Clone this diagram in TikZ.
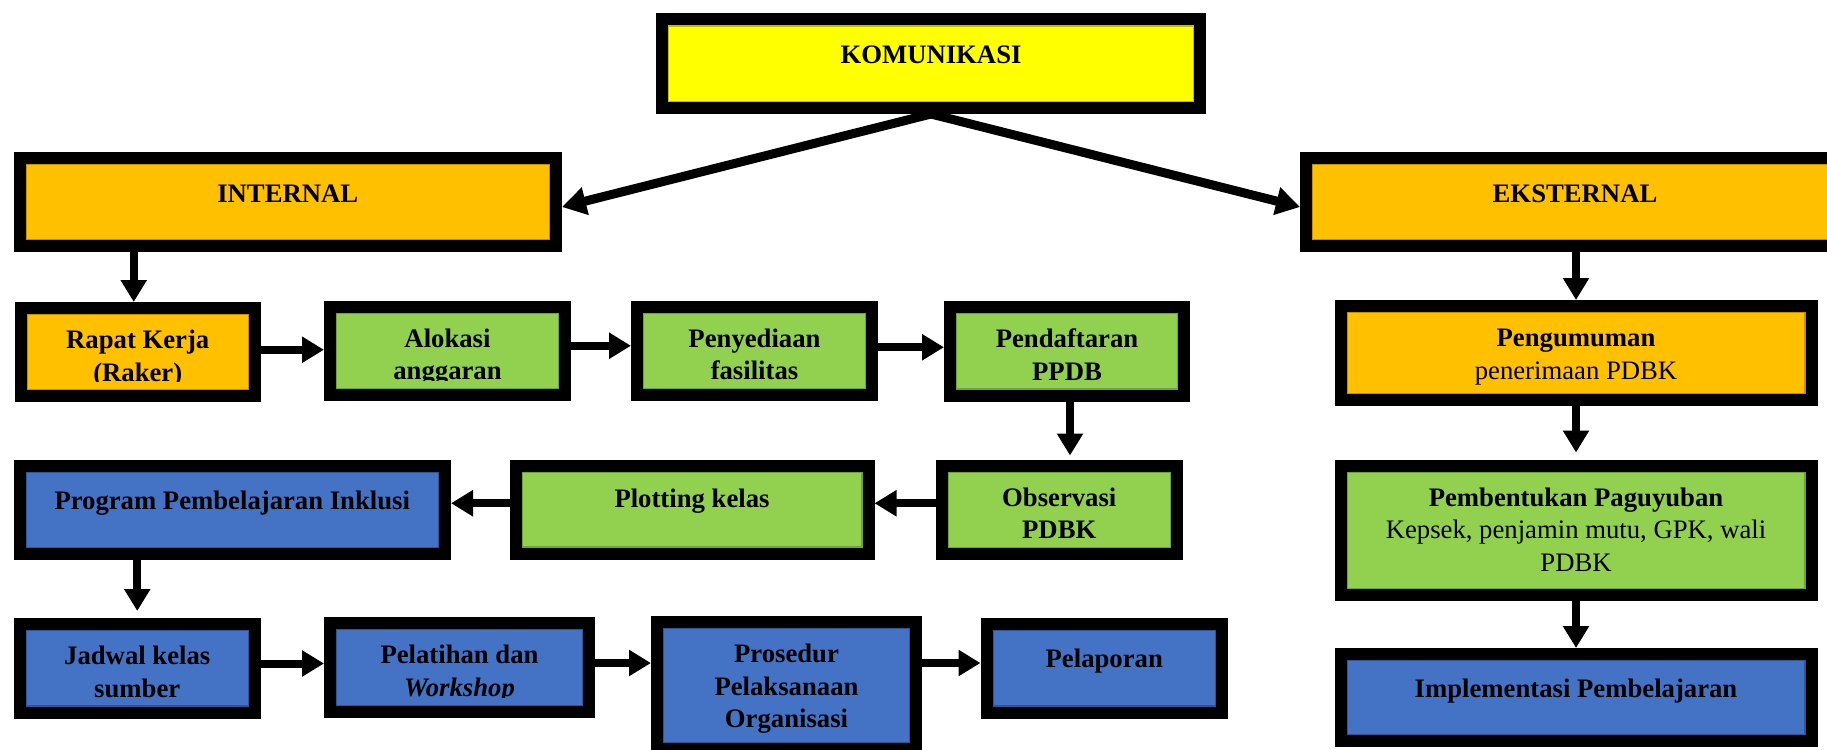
\documentclass[tikz,border=0pt]{standalone}
\usepackage{fontspec}
\setmainfont{Liberation Serif}
\usetikzlibrary{arrows.meta}

\definecolor{fillY}{HTML}{FFFF00}\definecolor{edgeY}{HTML}{BFBF00}
\definecolor{fillO}{HTML}{FFC000}\definecolor{edgeO}{HTML}{C49000}
\definecolor{fillG}{HTML}{92D050}\definecolor{edgeG}{HTML}{6EA23A}
\definecolor{fillB}{HTML}{4472C4}\definecolor{edgeB}{HTML}{2F5597}

\tikzset{
  box/.style={rectangle, draw=black, line width=12pt, inner sep=0pt, outer sep=6pt},
  lbl/.style={font=\fontsize{26.7}{32.5}\selectfont\bfseries, align=center,
              inner sep=0pt, text=black},
  arr/.style={line width=8pt, -{Triangle[length=22pt,width=25pt]}},
  darr/.style={line width=9pt, -{Triangle[length=24pt,width=27pt]}},
}

% box from its outer corners: name, colour key, x1, y1, x2, y2
\newcommand\mkbox[6]{%
  \node[box, fill=fill#2, minimum width={#5-#3-12}, minimum height={#6-#4-12}]
    (#1) at ({(#3+#5)/2},{(#4+#6)/2}) {};
  \draw[edge#2, line width=1.2pt]
    ([shift={(12.6,12.6)}]#1.north west) rectangle ([shift={(-12.6,-12.6)}]#1.south east);
}
% text of a box, set from the top (optional extra drop) and cut off at the text frame
\newcommand\mktext[3][0]{%
  \begin{scope}
    \clip ([shift={(12,12)}]#2.north west) rectangle ([shift={(-12,-21)}]#2.south east);
    \node[lbl, anchor=north] (#2t) at ([shift={(0,22.5+#1)}]#2.north) {\rule{0pt}{24pt}#3};
  \end{scope}
}

\begin{document}
\begin{tikzpicture}[x=1pt, y=-1pt]
  \useasboundingbox (0,0) rectangle (1827,749);
  \clip (0,0) rectangle (1827,749);

  % boxes
  \mkbox{kom}{Y}{656}{13.5}{1206}{114}
  \mkbox{int}{O}{13.5}{152}{562}{252}
  \mkbox{eks}{O}{1300}{152}{1850}{252}
  \mkbox{rk}{O}{14.5}{302}{261}{402}
  \mkbox{alo}{G}{324}{300.5}{571}{401}
  \mkbox{pny}{G}{631}{300.5}{878}{401}
  \mkbox{pdf}{G}{944}{301}{1190}{401.5}
  \mkbox{peng}{O}{1334.5}{300}{1817.5}{406}
  \mkbox{prg}{B}{13.5}{459.5}{451}{560}
  \mkbox{plt}{G}{509.5}{460}{874.5}{559.5}
  \mkbox{obs}{G}{935.5}{459.5}{1183}{560}
  \mkbox{pemb}{G}{1334.5}{459.5}{1817.5}{601}
  \mkbox{jad}{B}{13.5}{618}{261}{718.5}
  \mkbox{pel}{B}{324}{617}{595}{718}
  \mkbox{pro}{B}{651}{616}{922}{755}
  \mkbox{lap}{B}{980.5}{617.5}{1228}{718.5}
  \mkbox{imp}{B}{1334.5}{648}{1817.5}{747}

  % texts
  \mktext[3]{kom}{KOMUNIKASI}
  \mktext[4]{int}{INTERNAL}
  \mktext[4]{eks}{EKSTERNAL}
  \mktext{rk}{Rapat Kerja\\(Raker)}
  \mktext{alo}{Alokasi\\anggaran}
  \mktext{pny}{Penyediaan\\fasilitas}
  \mktext{pdf}{Pendaftaran\\PPDB}
  \mktext{peng}{Pengumuman\\{\mdseries penerimaan PDBK}}
  \mktext[3]{prg}{Program Pembelajaran Inklusi}
  \mktext[1]{plt}{Plotting kelas}
  \mktext{obs}{Observasi\\PDBK}
  \mktext{pemb}{Pembentukan Paguyuban\\{\mdseries Kepsek, penjamin mutu, GPK, wali}\\{\mdseries PDBK}}
  \mktext{jad}{Jadwal kelas\\sumber}
  \mktext{pel}{Pelatihan dan\\\textit{Workshop}}
  \mktext{pro}{Prosedur\\Pelaksanaan\\Organisasi}
  \mktext[3]{lap}{Pelaporan}
  \mktext[3]{imp}{Implementasi Pembelajaran}

  % connectors
  \draw[darr] (kom.south) -- ([shift={(0,5)}]int.east);
  \draw[darr] (kom.south) -- ([shift={(0,5)}]eks.west);

  \coordinate (a1) at ([shift={(-4,0)}]rk.north);
  \draw[arr] (int.south -| a1) -- (a1);
  \coordinate (a2) at ([shift={(0,-1)}]alo.west);
  \draw[arr] (rk.east |- a2) -- (a2);
  \coordinate (a3) at ([shift={(0,-5)}]pny.west);
  \draw[arr] (alo.east |- a3) -- (a3);
  \coordinate (a4) at ([shift={(0,-4)}]pdf.west);
  \draw[arr] (pny.east |- a4) -- (a4);
  \coordinate (a5) at ([shift={(3,0)}]pdf.south);
  \draw[arr, shorten >=4pt] (a5) -- (a5 |- obs.north);
  \coordinate (a6) at ([shift={(0,-6.5)}]obs.west);
  \draw[arr] (a6) -- (a6 -| plt.east);
  \coordinate (a7) at ([shift={(0,-6.5)}]plt.west);
  \draw[arr] (a7) -- (a7 -| prg.east);
  \draw[arr, shorten >=7pt] (prg.south -| jad.north) -- (jad.north);
  \coordinate (a9) at ([shift={(0,-4)}]pel.west);
  \draw[arr] (jad.east |- a9) -- (a9);
  \coordinate (a10) at ([shift={(0,-4.5)}]pel.east);
  \draw[arr] (a10) -- (a10 -| pro.west);
  \coordinate (a11) at ([shift={(0,-5)}]lap.west);
  \draw[arr] (pro.east |- a11) -- (a11);

  \draw[arr] (eks.south -| peng.north) -- (peng.north);
  \draw[arr, shorten >=7pt] (peng.south) -- (pemb.north);
  \draw[arr] (pemb.south) -- (imp.north);
\end{tikzpicture}
\end{document}
